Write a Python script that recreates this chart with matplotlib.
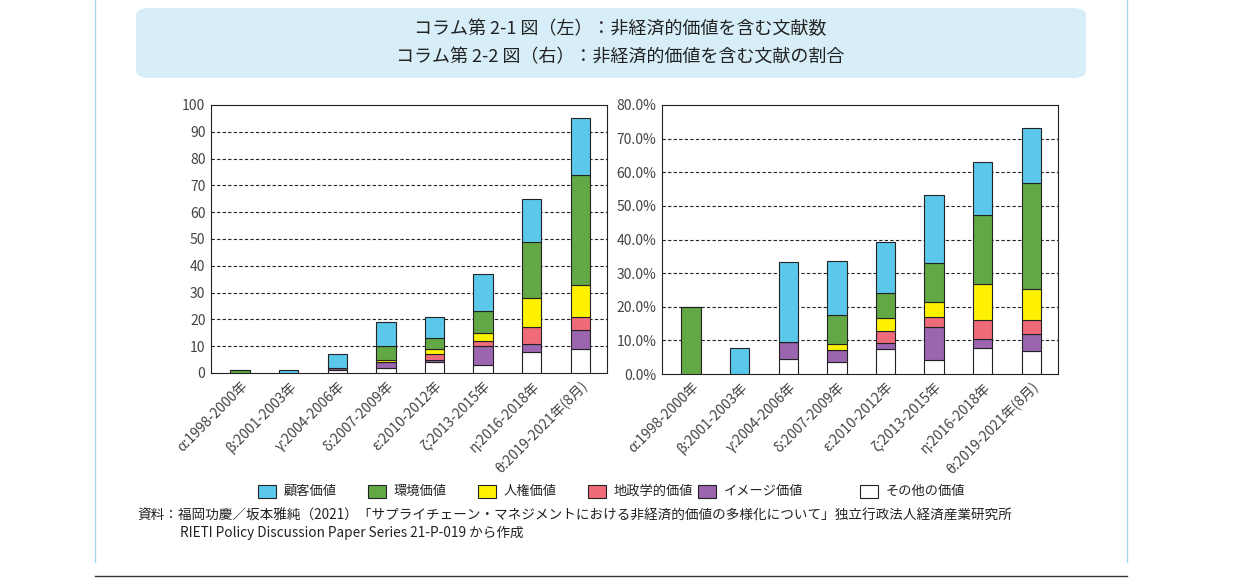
import matplotlib
matplotlib.use("Agg")
import matplotlib.pyplot as plt
from matplotlib.patches import FancyBboxPatch, Rectangle
import numpy as np

plt.rcParams['font.family'] = ['Noto Sans CJK JP', 'DejaVu Sans']

periods = ["α:1998-2000年", "β:2001-2003年", "γ:2004-2006年", "δ:2007-2009年",
           "ε:2010-2012年", "ζ:2013-2015年", "η:2016-2018年", "θ:2019-2021年(8月)"]
series = ["その他の価値", "イメージ価値", "地政学的価値", "人権価値", "環境価値", "顧客価値"]
colors = ["#ffffff", "#9b65b0", "#f06b7a", "#fff200", "#62a844", "#5bc8ea"]

# counts (bottom to top)
cnt_other = [0, 0, 1, 2, 4, 3, 8, 9]
cnt_image = [0, 0, 1, 2, 1, 7, 3, 7]
cnt_geo = [0, 0, 0, 0, 2, 2, 6, 5]
cnt_human = [0, 0, 0, 1, 2, 3, 11, 12]
cnt_env = [1, 0, 0, 5, 4, 8, 21, 41]
cnt_cust = [0, 1, 5, 9, 8, 14, 16, 21]

# share (%)
pct_other = [0, 0, 4.6, 3.5, 7.4, 4.1, 7.6, 6.7]
pct_image = [0, 0, 4.9, 3.5, 1.7, 10.0, 2.9, 5.3]
pct_geo = [0, 0, 0, 0, 3.8, 2.9, 5.6, 4.2]
pct_human = [0, 0, 0, 1.8, 3.7, 4.5, 10.7, 9.1]
pct_env = [20.0, 0, 0, 8.8, 7.4, 11.5, 20.4, 31.6]
pct_cust = [0, 7.7, 23.8, 16.0, 15.2, 20.1, 15.7, 16.3]

fig = plt.figure(figsize=(12.41, 5.85), dpi=100)
W, H = 1241, 585

def px(x0, y0, x1, y1):
    return [x0 / W, 1 - y1 / H, (x1 - x0) / W, (y1 - y0) / H]

# title box
fig.patches.append(FancyBboxPatch((136 / W, 1 - 78 / H), 950 / W, 70 / H,
                                  boxstyle="round,pad=0,rounding_size=0.012",
                                  transform=fig.transFigure, fc="#d7eef8", ec="none"))
fig.text(0.5, 1 - 29 / H, "コラム第 2-1 図（左）：非経済的価値を含む文献数", ha="center", va="center", fontsize=13, color="#222")
fig.text(0.5, 1 - 57 / H, "コラム第 2-2 図（右）：非経済的価値を含む文献の割合", ha="center", va="center", fontsize=13, color="#222")
fig.add_artist(plt.Line2D([95 / W, 95 / W], [0.04, 1], color="#a8d8ee", lw=1))
fig.add_artist(plt.Line2D([1127 / W, 1127 / W], [0.04, 1], color="#a8d8ee", lw=1))
fig.add_artist(plt.Line2D([95 / W, 1127 / W], [1 - 576 / H, 1 - 576 / H], color="#333", lw=1))

def draw(ax, data, ymax, step, fmt):
    x = np.arange(len(periods))
    bottom = np.zeros(len(periods))
    for vals, c in zip(data, colors):
        vals = np.array(vals, dtype=float)
        ax.bar(x, vals, 0.4, bottom=bottom, color=c, edgecolor="#222", linewidth=0.8,
               zorder=3)
        bottom += vals
    ax.set_ylim(0, ymax)
    ax.set_xlim(-0.6, len(periods) - 0.45)
    ticks = np.arange(0, ymax + 0.001, step)
    ax.set_yticks(ticks)
    ax.set_yticklabels([fmt(t) for t in ticks], fontsize=10, color="#444")
    for t in ticks[1:-1]:
        ax.axhline(t, color="#222", lw=0.8, ls=(0, (3, 2)), zorder=1)
    ax.set_xticks(x)
    ax.set_xticklabels(periods, rotation=45, ha="right", rotation_mode="anchor",
                       fontsize=10, color="#444")
    ax.tick_params(length=0, pad=4)
    for s in ax.spines.values():
        s.set_color("#222")
        s.set_linewidth(0.8)

ax1 = fig.add_axes(px(211, 105, 607, 373))
draw(ax1, [cnt_other, cnt_image, cnt_geo, cnt_human, cnt_env, cnt_cust], 100, 10,
     lambda t: f"{int(t)}")
ax2 = fig.add_axes(px(662, 105, 1058, 374))
draw(ax2, [pct_other, pct_image, pct_geo, pct_human, pct_env, pct_cust], 80, 10,
     lambda t: f"{t:.1f}%")

# legend
leg_items = ["顧客価値", "環境価値", "人権価値", "地政学的価値", "イメージ価値", "その他の価値"]
leg_cols = ["#5bc8ea", "#62a844", "#fff200", "#f06b7a", "#9b65b0", "#ffffff"]
xs = [258, 368, 478, 588, 698, 860]
for xp, lab, c in zip(xs, leg_items, leg_cols):
    fig.patches.append(Rectangle((xp / W, 1 - 498 / H), 18 / W, 13 / H, transform=fig.transFigure,
                                 fc=c, ec="#222", lw=0.8))
    fig.text((xp + 26) / W, 1 - 491 / H, lab, va="center", fontsize=9.5, color="#222")

fig.text(137 / W, 1 - 516 / H,
         "資料：福岡功慶／坂本雅純（2021）「サプライチェーン・マネジメントにおける非経済的価値の多様化について」独立行政法人経済産業研究所",
         va="center", fontsize=9.8, color="#222")
fig.text(180 / W, 1 - 533 / H, "RIETI Policy Discussion Paper Series 21-P-019 から作成",
         va="center", fontsize=9.8, color="#222")

fig.savefig("out.png", dpi=100)
